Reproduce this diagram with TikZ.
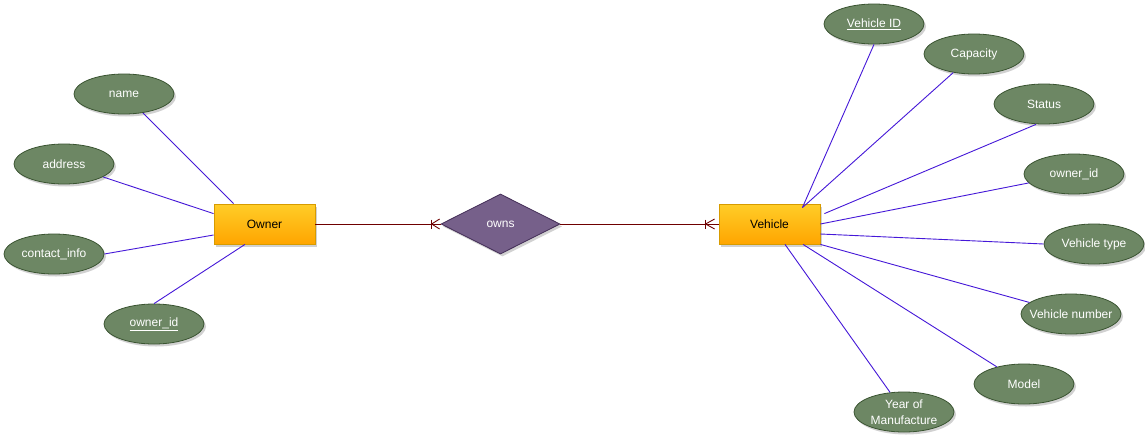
\documentclass[tikz,border=0pt]{standalone}
\usepackage{fontspec}
\setmainfont{Liberation Sans}
\usetikzlibrary{shapes.geometric,shadows,calc}
\definecolor{attrfill}{HTML}{6D8764}
\definecolor{attrdraw}{HTML}{3A5431}
\definecolor{entdraw}{HTML}{D79B00}
\definecolor{enttop}{HTML}{FFCD28}
\definecolor{entbot}{HTML}{FFA500}
\definecolor{relfill}{HTML}{76608A}
\definecolor{reldraw}{HTML}{432D57}
\definecolor{attrline}{HTML}{4518D8}
\definecolor{relline}{HTML}{6F0000}
\tikzset{
  shd/.style={drop shadow={shadow xshift=2pt, shadow yshift=-2.5pt, opacity=0.18, fill=black}},
  attr/.style={ellipse, draw=attrdraw, fill=attrfill, text=white, minimum width=100pt,
    minimum height=40pt, inner sep=0pt, line width=0.8pt, shd},
  entity/.style={rectangle, draw=entdraw, top color=enttop, bottom color=entbot,
    minimum width=101pt, minimum height=40pt, inner sep=0pt, line width=0.8pt, shd},
  relship/.style={diamond, draw=reldraw, fill=relfill, text=white, aspect=2,
    minimum width=119pt, minimum height=60pt, inner sep=0pt, line width=0.8pt, shd},
  attrlink/.style={draw=attrline, line width=0.9pt},
  rellink/.style={draw=relline, line width=0.9pt},
}
\begin{document}
\begin{tikzpicture}[x=1pt,y=-1pt,font=\fontsize{12}{15.5}\selectfont]
\useasboundingbox[fill=white] (0,0) rectangle (1145,442);

% entities and relationship
\node[entity] (owner) at (264.5,224) {Owner};
\node[relship] (owns) at (500.5,224) {owns};
\node[entity] (vehicle) at (769.5,224) {Vehicle};

% owner attributes
\node[attr] (name) at (124,94) {name};
\node[attr] (address) at (64,164) {address};
\node[attr] (contact) at (54,254) {contact\_info};
\node[attr] (oidl) at (154,324) {\underline{owner\_id}};

% vehicle attributes
\node[attr] (vid) at (874,24) {\underline{Vehicle ID}};
\node[attr] (cap) at (974,54) {Capacity};
\node[attr] (status) at (1044,104) {Status};
\node[attr] (oidr) at (1074,174) {owner\_id};
\node[attr] (vtype) at (1094,244) {Vehicle type};
\node[attr, inner xsep=-8pt] (vnum) at (1071,314) {Vehicle number};
\node[attr] (model) at (1024,384) {Model};
\node[attr, align=center, inner xsep=-2pt, inner ysep=-2pt] (year) at (904,412) {Year of\\Manufacture};

% owner links
\draw[attrlink] (name) -- ([xshift=20pt]owner.north west);
\draw[attrlink] (address) -- ([yshift=-10pt]owner.north west);
\draw[attrlink] (contact.east) -- ([yshift=-11pt]owner.west);
\draw[attrlink] (oidl.north) -- ([xshift=-19.5pt]owner.south);

% vehicle links
\draw[attrlink] (vid.south) -- ([xshift=-18pt,yshift=-4pt]vehicle.north east);
\draw[attrlink] (cap) -- ([xshift=-18pt,yshift=-4pt]vehicle.north east);
\draw[attrlink] ([xshift=-8pt]status.south) -- ([xshift=4pt,yshift=-10pt]vehicle.north east);
\draw[attrlink] (oidr) -- (vehicle.east);
\draw[attrlink] (vtype.west) -- ([yshift=-10pt]vehicle.east);
\draw[attrlink] (vnum) -- (vehicle.south east);
\draw[attrlink] (model) -- ([xshift=33.5pt]vehicle.south);
\draw[attrlink] (year) -- ([xshift=15.5pt]vehicle.south);

% relationship links with crow's feet
\draw[rellink] (owner.east) -- (owns.west);
\draw[rellink] ($(owns.west)+(-9,-4.5)$) -- ($(owns.west)+(-9,4.5)$);
\draw[rellink] ($(owns.west)+(-1,-5)$) -- ($(owns.west)+(-9,0)$) -- ($(owns.west)+(-1,5)$);

\draw[rellink] (owns.east) -- (vehicle.west);
\draw[rellink] ($(vehicle.west)+(-13,-4.5)$) -- ($(vehicle.west)+(-13,4.5)$);
\draw[rellink] ($(vehicle.west)+(-4,-5)$) -- ($(vehicle.west)+(-13,0)$) -- ($(vehicle.west)+(-4,5)$);
\end{tikzpicture}
\end{document}
